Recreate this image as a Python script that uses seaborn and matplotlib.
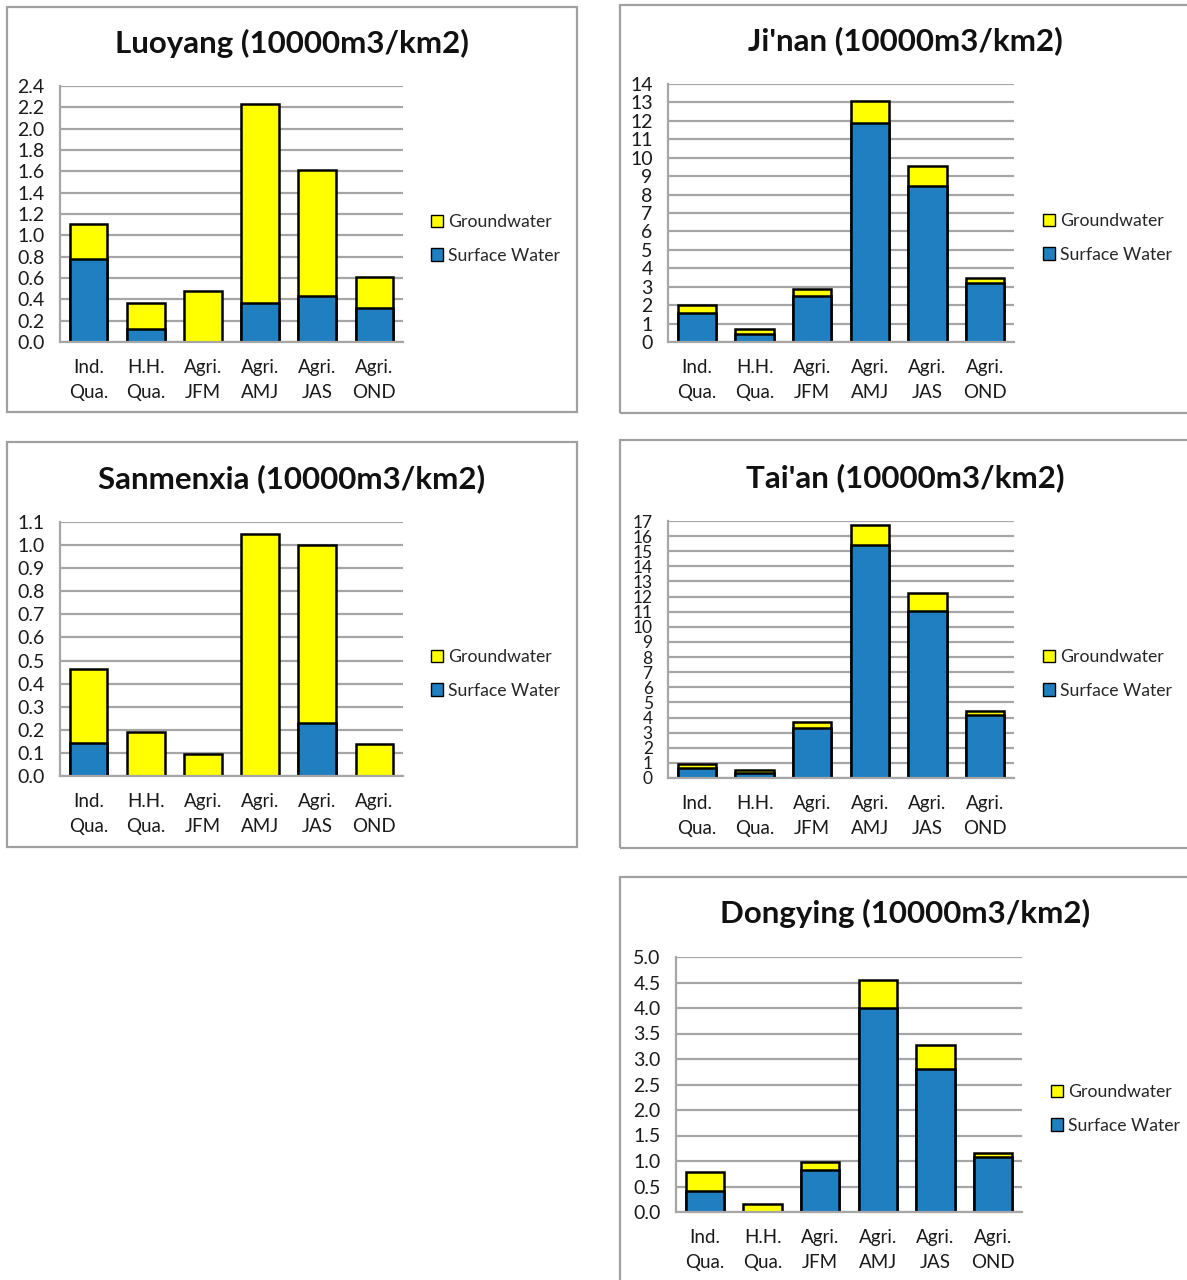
import seaborn as sns
import matplotlib.pyplot as plt
import numpy as np
import pandas as pd
from matplotlib.patches import Rectangle, Patch
from matplotlib.ticker import MultipleLocator, FormatStrFormatter

# categories
cats = ["Ind.\nQua.", "H.H.\nQua.", "Agri.\nJFM", "Agri.\nAMJ", "Agri.\nJAS", "Agri.\nOND"]

# surface water / groundwater per city (10000m3/km2)
luoyang_sw = [0.78, 0.12, 0.0, 0.37, 0.43, 0.32]
luoyang_gw = [0.33, 0.25, 0.48, 1.86, 1.18, 0.29]
jinan_sw = [1.55, 0.45, 2.50, 11.90, 8.45, 3.20]
jinan_gw = [0.45, 0.25, 0.35, 1.20, 1.10, 0.25]
sanmenxia_sw = [0.145, 0.0, 0.0, 0.0, 0.23, 0.0]
sanmenxia_gw = [0.32, 0.19, 0.095, 1.05, 0.77, 0.14]
taian_sw = [0.65, 0.35, 3.30, 15.40, 11.05, 4.20]
taian_gw = [0.30, 0.15, 0.40, 1.35, 1.20, 0.20]
dongying_sw = [0.42, 0.0, 0.82, 4.00, 2.80, 1.07]
dongying_gw = [0.36, 0.15, 0.17, 0.55, 0.48, 0.09]

YELLOW = "#ffff00"
BLUE = "#1f7fc0"
GRID = "#a6a6a6"

sns.set_style("white")
plt.rcParams["font.family"] = ["Lato", "DejaVu Sans"]

W, H = 1187, 1280
fig = plt.figure(figsize=(W / 100, H / 100), dpi=100)

def px_axes(l, t, r, b):
    return fig.add_axes([l / W, 1 - b / H, (r - l) / W, (b - t) / H])

def panel(x0, y0, x1, y1):
    fig.patches.append(Rectangle((x0 / W, 1 - y1 / H), (x1 - x0) / W, (y1 - y0) / H,
                                 transform=fig.transFigure, fill=False,
                                 edgecolor="#a0a0a0", linewidth=1.6))

def chart(title, sw, gw, axbox, pbox, ymax, step, fmt, legxy, title_y, ysize=14):
    ax = px_axes(*axbox)
    df = pd.DataFrame({"cat": cats, "sw": sw, "total": np.array(sw) + np.array(gw)})
    sns.barplot(data=df, x="cat", y="total", order=cats, color=YELLOW, ax=ax,
                edgecolor="black", linewidth=1.8, width=0.66, saturation=1)
    sns.barplot(data=df, x="cat", y="sw", order=cats, color=BLUE, ax=ax,
                edgecolor="black", linewidth=1.8, width=0.66, saturation=1)
    ax.set_ylim(0, ymax)
    ax.set_xlim(-0.5, 5.5)
    ax.yaxis.set_major_locator(MultipleLocator(step))
    ax.yaxis.set_major_formatter(FormatStrFormatter(fmt))
    ax.grid(axis="y", color=GRID, linewidth=1.6)
    ax.set_axisbelow(True)
    for s in ["top", "right"]:
        ax.spines[s].set_visible(False)
    for s in ["left", "bottom"]:
        ax.spines[s].set_color(GRID)
        ax.spines[s].set_linewidth(1.6)
    ax.tick_params(length=0, colors="#1a1a1a")
    ax.tick_params(axis="y", labelsize=ysize, pad=11)
    ax.tick_params(axis="x", labelsize=13.5, pad=12)
    ax.set_xlabel("")
    ax.set_ylabel("")
    for lab in ax.get_xticklabels():
        lab.set_linespacing(1.6)
    panel(*pbox)
    fig.text((pbox[0] + pbox[2]) / 2 / W, 1 - title_y / H, title, ha="center", va="center",
             fontsize=22.5, fontweight="bold", color="#111111")
    handles = [Patch(facecolor=YELLOW, edgecolor="black", label="Groundwater"),
               Patch(facecolor=BLUE, edgecolor="black", label="Surface Water")]
    fig.legend(handles=handles, loc="center left",
               bbox_to_anchor=(legxy[0] / W, 1 - legxy[1] / H), frameon=False,
               fontsize=12.7, handlelength=0.7, handleheight=0.7, handletextpad=0.25,
               labelspacing=1.0, borderpad=0, borderaxespad=0)

chart("Luoyang (10000m3/km2)", luoyang_sw, luoyang_gw, (60, 86, 403, 342),
      (7, 7, 577, 412), 2.4, 0.2, "%.1f", (431, 239), 43)
chart("Ji'nan (10000m3/km2)", jinan_sw, jinan_gw, (668, 84, 1014, 342),
      (620, 5, 1190, 413), 14, 1, "%d", (1043, 238), 41)
chart("Sanmenxia (10000m3/km2)", sanmenxia_sw, sanmenxia_gw, (60, 522, 403, 776),
      (7, 442, 577, 847), 1.1, 0.1, "%.1f", (431, 674), 479)
chart("Tai'an (10000m3/km2)", taian_sw, taian_gw, (668, 521, 1014, 778),
      (620, 440, 1190, 848), 17, 1, "%d", (1043, 674), 478, ysize=12.5)
chart("Dongying (10000m3/km2)", dongying_sw, dongying_gw, (676, 957, 1022, 1212),
      (620, 877, 1190, 1283), 5.0, 0.5, "%.1f", (1051, 1109), 913)

fig.savefig("out.png", dpi=100)
